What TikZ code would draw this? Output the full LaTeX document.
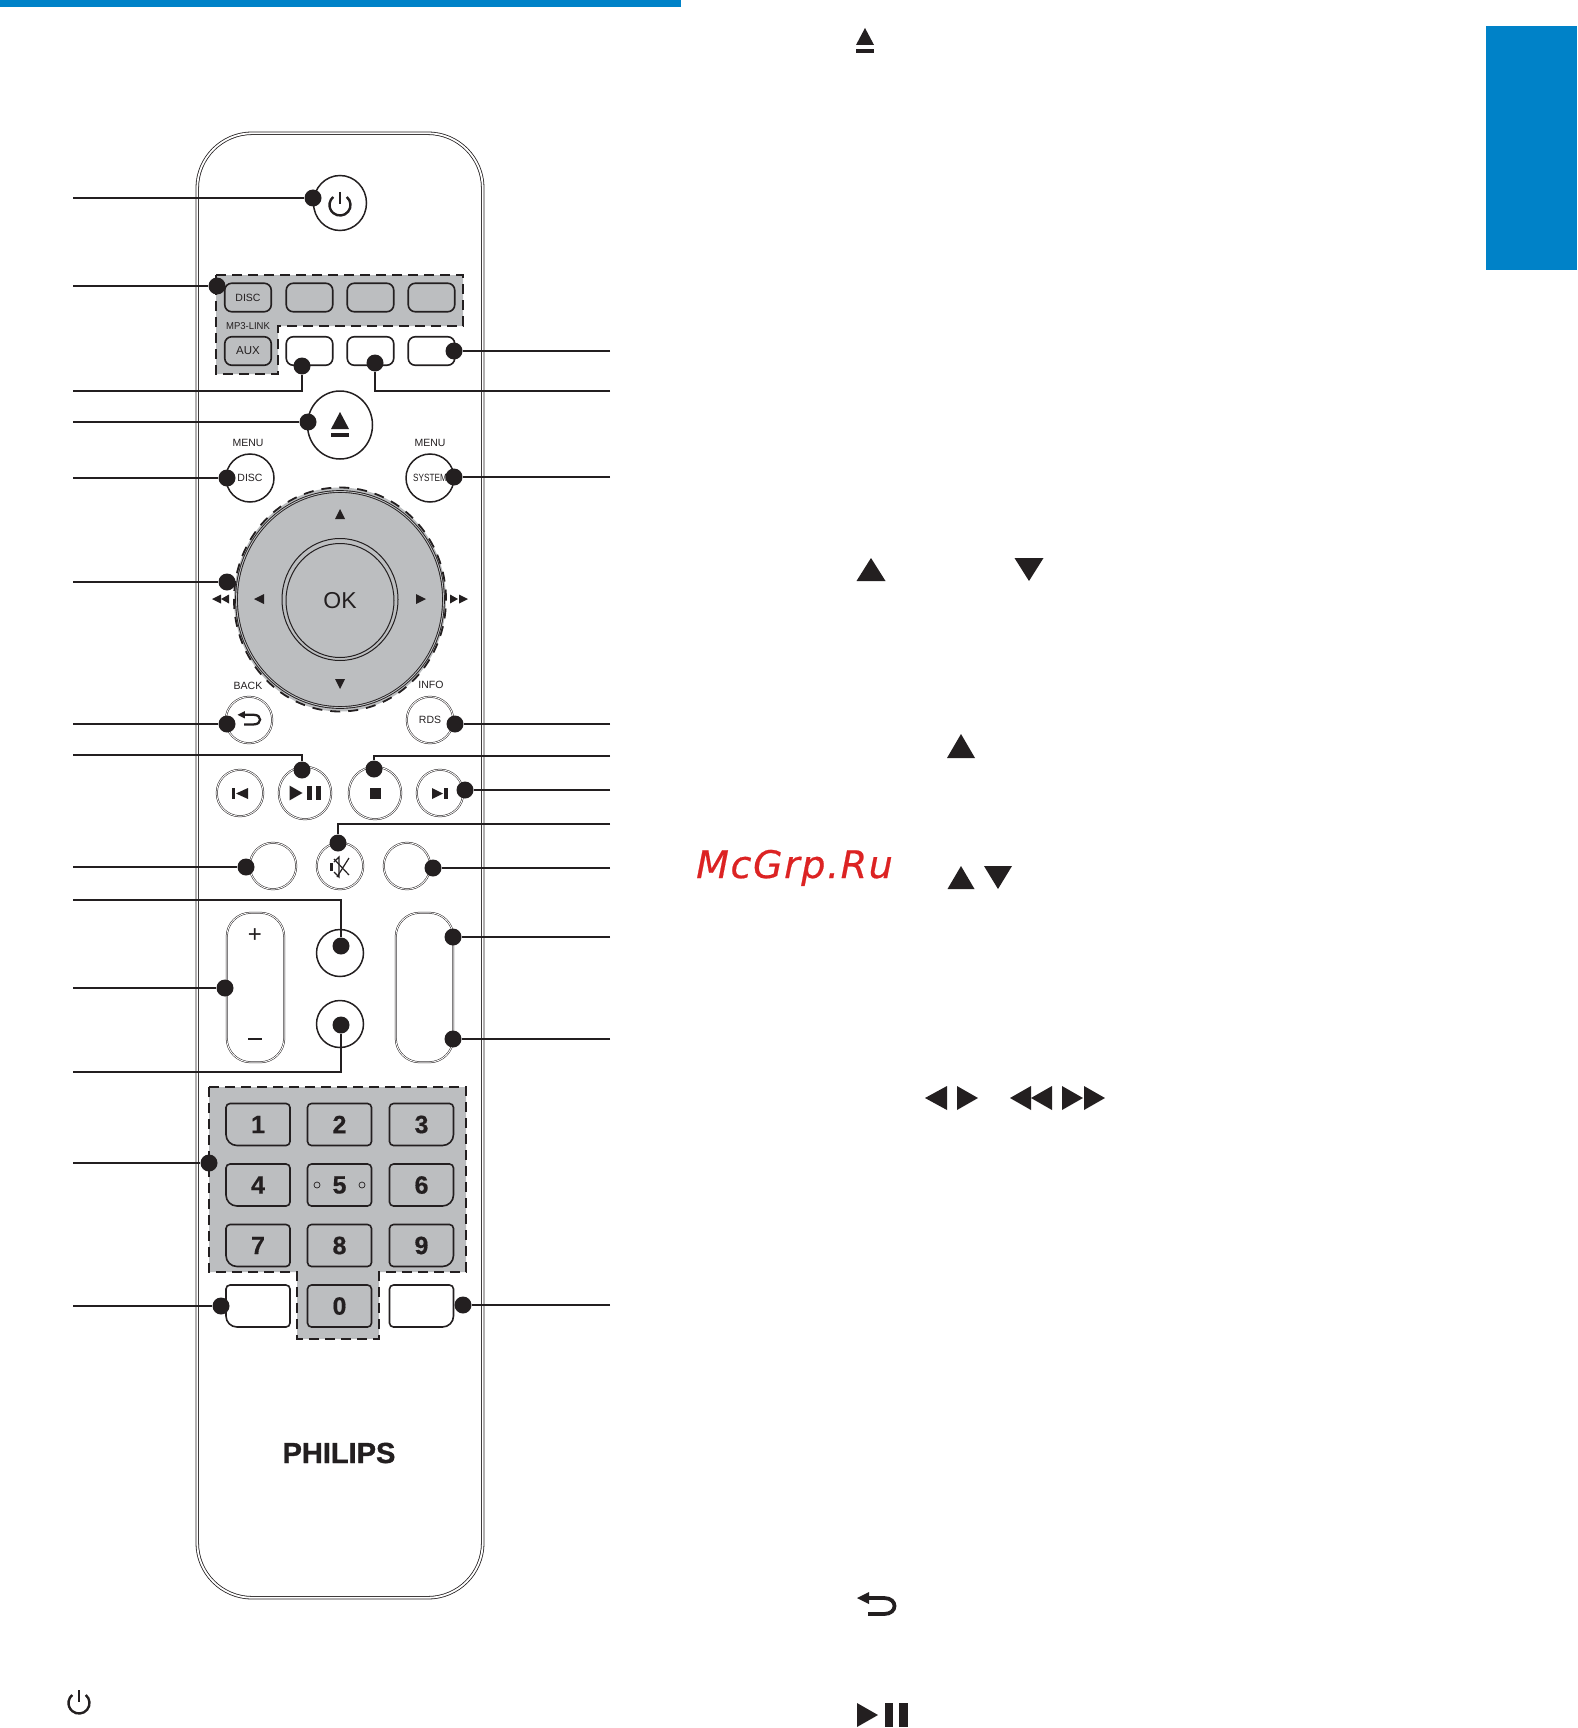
\documentclass[tikz,border=0pt]{standalone}
\usepackage{fontspec}
\usetikzlibrary{shapes.geometric}
\setmainfont{Liberation Sans}
\newfontfamily\mcgrp[LetterSpace=4.2,ItalicFeatures={FakeBold=0.5}]{DejaVu Sans}
\newfontfamily\brandfont[BoldFeatures={FakeBold=1.2}]{Liberation Sans}
\newfontfamily\digitfont[BoldFeatures={FakeBold=0.5}]{Liberation Sans}
\definecolor{ink}{HTML}{231F20}
\definecolor{zonegray}{HTML}{BCBEC0}
\definecolor{tabblue}{HTML}{0082C8}
\definecolor{stampred}{HTML}{DC2323}
\tikzset{
  body/.style={draw=ink, line width=0.8pt, double=white, double distance=1.8pt, rounded corners=55pt, minimum width=285.5pt, minimum height=1464.5pt, inner sep=0pt},
  zone/.style={draw=ink, fill=zonegray, line width=1.8pt, dash pattern=on 10pt off 6pt},
  keyline/.style={draw=ink, line width=1.6pt},
  softkey/.style={circle, draw=ink, line width=0.5pt, double=white, double distance=0.9pt, inner sep=0pt, text=ink},
  softpill/.style={rectangle, draw=ink, line width=0.5pt, double=white, double distance=0.9pt, rounded corners=24pt, minimum width=57.5pt, minimum height=149.5pt, inner sep=0pt},
  hardkey/.style={circle, draw=ink, line width=1.5pt, fill=white, inner sep=0pt, text=ink},
  tallkey/.style={ellipse, draw=ink, line width=1.5pt, fill=white, inner sep=0pt},
  srckey/.style={rectangle, draw=ink, line width=1.6pt, rounded corners=7pt, minimum width=46.5pt, minimum height=28.5pt, inner sep=0pt, text=ink},
  dot/.style={circle, fill=ink, inner sep=0pt, minimum size=17pt},
  lead/.style={draw=ink, line width=2pt},
  small/.style={text=ink, inner sep=0pt, font={\fontsize{10.5}{12}\selectfont}},
  digit/.style={text=ink, inner sep=0pt, font={\fontsize{25}{25}\selectfont\digitfont\bfseries}}
}
\newcommand{\triv}[4]{\fill[ink] (#1-#4,#2) -- (#1+#4,#2) -- (#1,#2+#3) -- cycle;}
\newcommand{\trih}[4]{\fill[ink] (#1,#2-#4) -- (#1,#2+#4) -- (#1+#3,#2) -- cycle;}
\newcommand{\powericon}[2]{
  \draw[ink, line width=2.4pt] (#1,#2) ++(-50:10.5) arc (-50:230:10.5);
  \draw[ink, line width=2.4pt] (#1,#2-13) -- (#1,#2-1);
}
\newcommand{\ejecticon}[2]{
  \fill[ink] (#1-9,#2+5) -- (#1+9,#2+5) -- (#1,#2-12) -- cycle;
  \fill[ink] (#1-9,#2+9) rectangle (#1+9,#2+13);
}
\newcommand{\backicon}[3]{
  \begin{scope}[shift={(#1,#2)}, scale=#3]
    \fill[ink] (-19,-7) -- (-7,-13) -- (-7,-1) -- cycle;
    \draw[ink, line width=#3*3.8pt] (-8,-7) -- (8,-7) .. controls (22,-7) and (22,9) .. (8,9) -- (-8,9);
  \end{scope}
}
\newcommand{\playicon}[3]{
  \begin{scope}[shift={(#1,#2)}, scale=#3]
    \fill[ink] (-25,-12) -- (-4,0) -- (-25,12) -- cycle;
    \fill[ink] (3,-12) rectangle (11,12);
    \fill[ink] (17,-12) rectangle (26,12);
  \end{scope}
}
\newcommand{\numkey}[7][zonegray]{
  \filldraw[keyline, fill=#1, rounded corners=4pt] (#3-32,#4) -- (#3-32,#4-21) -- (#3+32,#4-21) [rounded corners=#5pt] -- (#3+32,#4+21) [rounded corners=#6pt] -- (#3-32,#4+21) [rounded corners=4pt] -- cycle;
  \node[digit] (#2) at (#3,#4) {#7};
}
\begin{document}
\begin{tikzpicture}[x=1pt,y=-1pt]
\useasboundingbox (0,0) rectangle (1577,1728);
\fill[tabblue] (0,0) rectangle (681,7.5);
\fill[tabblue] (1486,26) rectangle (1577,270);
\node[body] (remote) at (340,865.5) {};

\filldraw[zone] (216,275) -- (463,275) -- (463,326) -- (278,326) -- (278,374) -- (216,374) -- cycle;
\filldraw[zone] (209,1087) -- (466,1087) -- (466,1272) -- (379,1272) -- (379,1339) -- (297,1339) -- (297,1272) -- (209,1272) -- cycle;
\node[ellipse, draw=ink, line width=1.8pt, dash pattern=on 10pt off 8pt, fill=zonegray, minimum width=212pt, minimum height=224pt, inner sep=0pt] (wheel) at (340,599.5) {};
\node[ellipse, draw=ink, line width=0.9pt, double=zonegray, double distance=0.9pt, minimum width=207pt, minimum height=216pt, inner sep=0pt] (ring) at (340,599.5) {};
\node[ellipse, draw=ink, line width=1pt, minimum width=116pt, minimum height=122pt, inner sep=0pt] (okring) at (340,599.5) {};
\node[ellipse, draw=ink, line width=1pt, minimum width=108pt, minimum height=114pt, inner sep=0pt, text=ink, font={\fontsize{23}{23}\selectfont}] (ok) at (340,600.5) {OK};

\node[tallkey, minimum width=53pt, minimum height=55pt] (power) at (340,203) {};
\powericon{340}{205}
\node[srckey] (disc) at (248,297.5) {\fontsize{10.5}{12}\selectfont DISC};
\node[srckey] (src2) at (309.5,297.5) {};
\node[srckey] (src3) at (370.5,297.5) {};
\node[srckey] (src4) at (431.5,297.5) {};
\node[small] (link) at (248,326) {\fontsize{10}{12}\selectfont\scalebox{.95}[1]{MP3-LINK}};
\node[srckey] (aux) at (248,351) {\fontsize{11.5}{12}\selectfont AUX};
\node[srckey, fill=white] (mode1) at (309.5,351) {};
\node[srckey, fill=white] (mode2) at (370.5,351) {};
\node[srckey, fill=white] (mode3) at (431.5,351) {};

\node[tallkey, minimum width=65pt, minimum height=68pt] (eject) at (340,425) {};
\ejecticon{340}{424}
\node[small] (menuleft) at (248,443) {MENU};
\node[small] (menuright) at (430,443) {MENU};
\node[hardkey, minimum size=48pt] (discmenu) at (250,478) {\fontsize{10.5}{12}\selectfont DISC};
\node[hardkey, minimum size=48pt] (sysmenu) at (430,478) {\fontsize{10.5}{12}\selectfont\scalebox{.78}[1]{SYSTEM}};

\triv{340}{519}{-10}{5}
\triv{340}{679}{10}{5}
\trih{264}{599}{-10}{5}
\trih{416}{599}{10}{5}
\trih{221}{599}{-9}{4.5}
\trih{229}{599}{-8}{4.5}
\trih{450}{599}{8}{4.5}
\trih{459}{599}{9}{4.5}

\node[small] (backlabel) at (248,686) {BACK};
\node[small] (infolabel) at (431,685) {INFO};
\node[softkey, minimum size=46.5pt] (backkey) at (249,720) {};
\backicon{249}{719}{0.6}
\node[softkey, minimum size=46.5pt] (rds) at (430,720) {\fontsize{10.5}{12}\selectfont RDS};

\node[softkey, minimum size=46.5pt] (prev) at (240,793) {};
\fill[ink] (232,788) rectangle (235,799);
\trih{248}{793.5}{-12}{5.5}
\node[softkey, minimum size=52.5pt] (play) at (305,793) {};
\playicon{305}{793}{0.62}
\node[softkey, minimum size=52.5pt] (stop) at (375,793) {};
\fill[ink] (370,788) rectangle (381,799);
\node[softkey, minimum size=46.5pt] (next) at (440,793) {};
\trih{432}{793.5}{11}{5.5}
\fill[ink] (444,788) rectangle (448,799);

\node[softkey, minimum size=46.5pt] (sleep) at (273,866) {};
\node[softkey, minimum size=46.5pt] (mute) at (340,866) {};
\node[softkey, minimum size=46.5pt] (repeat) at (407,866) {};
\fill[ink] (330,863) rectangle (333,871);
\draw[ink, line width=1.2pt] (334,862) -- (339,857) -- (339,877) -- (334,872);
\draw[ink, line width=1.2pt] (334,859) -- (349,875) (349,858) -- (337,877);

\node[softpill] (volume) at (255.5,987.5) {};
\node[softpill] (bass) at (424.5,987.5) {};
\node[text=ink, inner sep=0pt, font={\fontsize{24}{24}\selectfont}] (plus) at (255,936) {+};
\fill[ink] (248,1038) rectangle (262,1040);
\node[hardkey, minimum size=47pt] (upper) at (340,953) {};
\node[hardkey, minimum size=47pt] (lower) at (340,1024) {};

\numkey{one}{258}{1124.5}{4}{11}{1}
\numkey{two}{339.5}{1124.5}{4}{4}{2}
\numkey{three}{421.5}{1124.5}{11}{4}{3}
\numkey{four}{258}{1185}{4}{11}{4}
\numkey{five}{339.5}{1185}{4}{4}{5}
\numkey{six}{421.5}{1185}{11}{4}{6}
\numkey{seven}{258}{1245.5}{4}{11}{7}
\numkey{eight}{339.5}{1245.5}{4}{4}{8}
\numkey{nine}{421.5}{1245.5}{11}{4}{9}
\numkey[white]{keyleft}{258}{1306}{4}{11}{}
\numkey{zero}{339.5}{1306}{4}{4}{0}
\numkey[white]{keyright}{421.5}{1306}{11}{4}{}
\draw[ink, line width=0.7pt] (317,1185) circle (3);
\draw[ink, line width=0.7pt] (362,1185) circle (3);

\node[text=ink, inner sep=0pt, font={\fontsize{29}{29}\selectfont\brandfont\bfseries}] (brand) at (339,1453) {PHILIPS};

\node[dot] (dpower) at (313,198) {};
\node[dot] (dsource) at (217,286) {};
\node[dot] (dmode3) at (454,351) {};
\node[dot] (dmode1) at (302,366) {};
\node[dot] (dmode2) at (375,363) {};
\node[dot] (deject) at (308,422) {};
\node[dot] (ddisc) at (227,478) {};
\node[dot] (dsys) at (454,477) {};
\node[dot] (dwheel) at (227,582) {};
\node[dot] (dback) at (227,724) {};
\node[dot] (drds) at (455,724) {};
\node[dot] (dplay) at (302,770) {};
\node[dot] (dstop) at (374,769) {};
\node[dot] (dnext) at (465,790) {};
\node[dot] (dmute) at (338,843) {};
\node[dot] (dsleep) at (246,867) {};
\node[dot] (drepeat) at (433,868) {};
\node[dot] (dupper) at (341,946) {};
\node[dot] (dbassup) at (453,937) {};
\node[dot] (dvolume) at (225,988) {};
\node[dot] (dlower) at (341,1025) {};
\node[dot] (dbassdown) at (453,1039) {};
\node[dot] (dnum) at (209,1163) {};
\node[dot] (dkeyleft) at (221,1306) {};
\node[dot] (dkeyright) at (463,1305) {};

\coordinate (lpower) at (73,198);
\coordinate (lsource) at (73,286);
\coordinate (lmode1) at (73,391);
\coordinate (leject) at (73,422);
\coordinate (ldisc) at (73,478);
\coordinate (lwheel) at (73,582);
\coordinate (lback) at (73,724);
\coordinate (lplay) at (73,755);
\coordinate (lsleep) at (73,867);
\coordinate (lupper) at (73,900);
\coordinate (lvolume) at (73,988);
\coordinate (llower) at (73,1072);
\coordinate (lnum) at (73,1163);
\coordinate (lkeyleft) at (73,1306);
\coordinate (rmode3) at (610,351);
\coordinate (rmode2) at (610,391);
\coordinate (rsys) at (610,477);
\coordinate (rrds) at (610,724);
\coordinate (rstop) at (610,756);
\coordinate (rnext) at (610,790);
\coordinate (rmute) at (610,824);
\coordinate (rrepeat) at (610,868);
\coordinate (rbassup) at (610,937);
\coordinate (rbassdown) at (610,1039);
\coordinate (rkeyright) at (610,1305);

\draw[lead] (lpower) -- (dpower);
\draw[lead] (lsource) -- (dsource);
\draw[lead] (lmode1) -| (dmode1);
\draw[lead] (leject) -- (deject);
\draw[lead] (ldisc) -- (ddisc);
\draw[lead] (lwheel) -- (dwheel);
\draw[lead] (lback) -- (dback);
\draw[lead] (lplay) -| (dplay);
\draw[lead] (lsleep) -- (dsleep);
\draw[lead] (lupper) -| (dupper);
\draw[lead] (lvolume) -- (dvolume);
\draw[lead] (llower) -| (dlower);
\draw[lead] (lnum) -- (dnum);
\draw[lead] (lkeyleft) -- (dkeyleft);
\draw[lead] (rmode3) -- (dmode3);
\draw[lead] (rmode2) -| (dmode2);
\draw[lead] (rsys) -- (dsys);
\draw[lead] (rrds) -- (drds);
\draw[lead] (rstop) -| (dstop);
\draw[lead] (rnext) -- (dnext);
\draw[lead] (rmute) -| (dmute);
\draw[lead] (rrepeat) -- (drepeat);
\draw[lead] (rbassup) -- (dbassup);
\draw[lead] (rbassdown) -- (dbassdown);
\draw[lead] (rkeyright) -- (dkeyright);

\node[anchor=base west, inner sep=0pt, text=stampred, font={\fontsize{38}{38}\selectfont\mcgrp\itshape}] (stamp) at (696,878) {McGrp.Ru};

\powericon{79}{1703}
\ejecticon{865}{40}
\triv{871}{581}{-23}{14.5}
\triv{1029}{558}{23}{14.5}
\triv{961}{758}{-24}{14}
\triv{961}{889}{-23}{13.5}
\triv{998}{866}{23}{14}
\trih{947}{1098}{-22}{12}
\trih{957}{1098}{21}{12}
\trih{1031}{1098}{-21}{12}
\trih{1052}{1098}{-21}{12}
\trih{1062}{1098}{21}{12}
\trih{1084}{1098}{21}{12}
\backicon{876}{1605}{1}
\playicon{882}{1715}{1}
\end{tikzpicture}
\end{document}
